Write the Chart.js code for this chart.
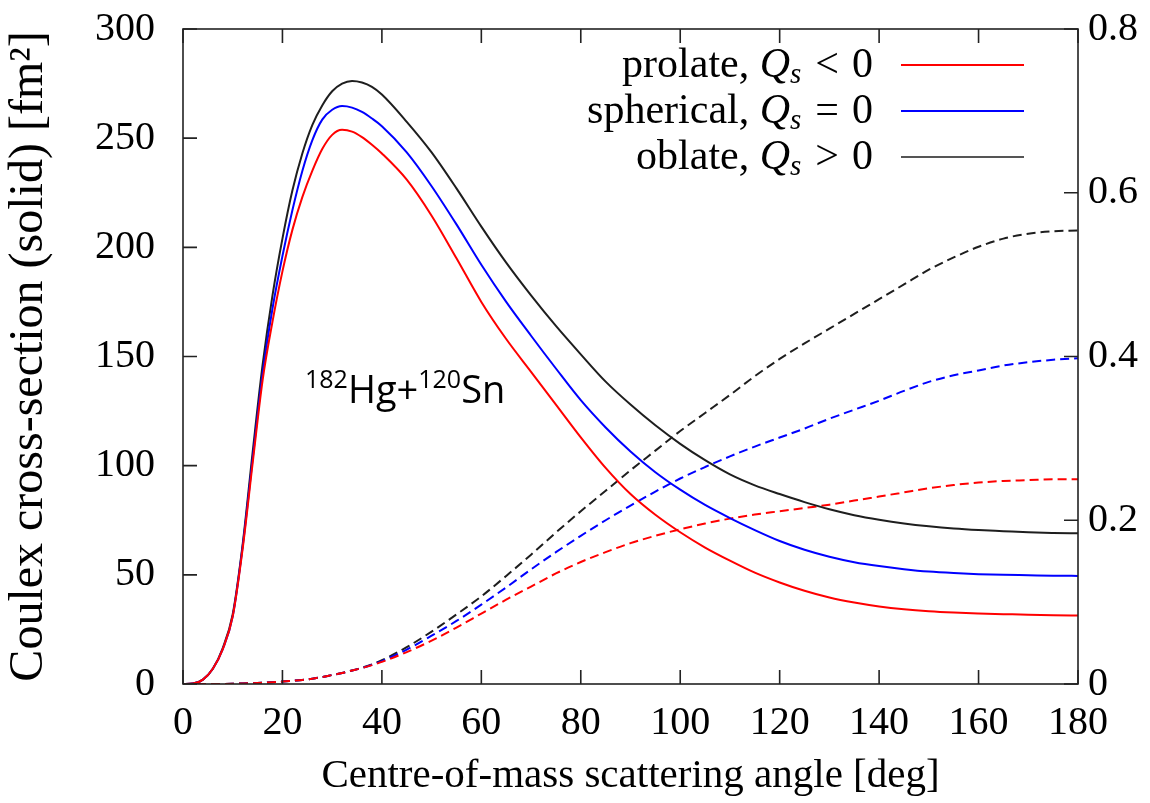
<!DOCTYPE html>
<html><head><meta charset="utf-8">
<script src="https://cdn.jsdelivr.net/npm/chart.js@4.4.0/dist/chart.umd.min.js"></script>
<style>html,body{margin:0;padding:0;background:#fff;}#wrap{width:1150px;height:803px;}</style>
</head><body><div id="wrap"><canvas id="c" width="1150" height="803"></canvas></div>
<script>
// ---- data ----
const angles = [0,2,4,6,8,10,12,14,16,18,20,22,24,26,28,30,32,34,36,38,40,45,50,55,60,65,70,75,80,85,90,95,100,105,110,115,120,125,130,135,140,145,150,155,160,165,170,175,180];

// Coulex cross-section [fm^2] (solid, left axis)
const prolateSolid   = [0,0.2,2,7,16,31,62,101,139,166,189,208,223,235,245,251.5,253.8,253,250.5,247,243,231,214.5,195,175,158,143,128,113,99,87,77.5,69.5,62.5,56.5,51,46.5,42.7,39.6,37.3,35.5,34.2,33.3,32.7,32.3,32,31.7,31.5,31.4];
const sphericalSolid = [0,0.2,2,7,16,31,63,103,142,172,196,217,235,249,258.5,263,264.7,264,262,259,255.5,243.5,228,210.5,192,175,159.5,144.5,130,117.5,106.5,97,89,82,76,70.5,65.5,61.5,58.3,55.8,54,52.6,51.5,50.8,50.3,50,49.8,49.6,49.5];
const oblateSolid    = [0,0.2,2,7,16.5,32,64,106,146,178,204,226,243,256,265,271.5,275,276.2,275.5,273.5,270,257.5,243.5,227,209.5,193,178,164,151,138.5,128,118.5,110,102.5,96,91,87,83.3,80,77.3,75.2,73.5,72.2,71.2,70.5,70,69.5,69.2,69];

// dashed curves (right axis)
const prolateDashed   = [0,0,0,0,0.0001,0.0003,0.0006,0.001,0.0015,0.0022,0.003,0.004,0.005,0.0065,0.0085,0.011,0.0135,0.0165,0.0195,0.023,0.027,0.039,0.053,0.069,0.086,0.103,0.119,0.135,0.149,0.161,0.172,0.181,0.189,0.196,0.202,0.207,0.211,0.215,0.219,0.224,0.229,0.234,0.239,0.243,0.246,0.248,0.249,0.25,0.25];
const sphericalDashed = [0,0,0,0,0.0001,0.0003,0.0006,0.001,0.0015,0.0022,0.003,0.004,0.005,0.0065,0.0085,0.011,0.0135,0.0165,0.0195,0.0235,0.028,0.042,0.059,0.077,0.097,0.118,0.140,0.161,0.181,0.200,0.218,0.235,0.251,0.265,0.278,0.290,0.301,0.312,0.324,0.335,0.346,0.358,0.369,0.377,0.383,0.389,0.393,0.396,0.398];
const oblateDashed    = [0,0,0,0,0.0001,0.0003,0.0006,0.001,0.0015,0.0022,0.003,0.004,0.005,0.0065,0.0085,0.011,0.0135,0.0165,0.02,0.024,0.029,0.045,0.064,0.085,0.107,0.132,0.158,0.185,0.211,0.236,0.261,0.285,0.309,0.331,0.353,0.376,0.397,0.416,0.434,0.452,0.470,0.488,0.506,0.521,0.534,0.544,0.55,0.553,0.554];

const xTickValues = [0,20,40,60,80,100,120,140,160,180];
const leftTickValues = [0,50,100,150,200,250,300];
const rightTickValues = [0,0.2,0.4,0.6,0.8];
const rightTickLabels = ['0','0.2','0.4','0.6','0.8'];

const seriesNames = ['prolate', 'spherical', 'oblate'];
const seriesRelations = ['<', '=', '>'];
const seriesColors = ['#ff0000', '#0000ff', '#1e1e1e'];
const legendLineColors = ['#ff0000', '#0000ff', '#555555'];

const xTitle = 'Centre-of-mass scattering angle [deg]';
const yTitle = 'Coulex cross-section (solid) [fm²]';

// ---- chart ----
const SERIF = '"Liberation Serif", "DejaVu Serif", serif';
function pts(vals){ return angles.map((a,i)=>({x:a,y:vals[i]})); }

const solids = [prolateSolid, sphericalSolid, oblateSolid];
const dashes = [prolateDashed, sphericalDashed, oblateDashed];
const datasets = [];
solids.forEach((s,i)=>datasets.push({label:seriesNames[i]+' solid', data:pts(s), yAxisID:'y', borderColor:seriesColors[i], borderWidth:2, pointRadius:0, cubicInterpolationMode:'monotone', fill:false}));
dashes.forEach((s,i)=>datasets.push({label:seriesNames[i]+' dashed', data:pts(s), yAxisID:'y2', borderColor:seriesColors[i], borderWidth:2, borderDash:[9,5], pointRadius:0, cubicInterpolationMode:'monotone', fill:false}));

const frameAndTicks = {
  id:'frameAndTicks',
  afterDatasetsDraw(chart){
    const {ctx, chartArea:a, scales} = chart;
    ctx.save();
    ctx.strokeStyle = '#222'; ctx.lineWidth = 1.6;
    ctx.strokeRect(a.left, a.top, a.right-a.left, a.bottom-a.top);
    const L = 14;
    ctx.beginPath();
    xTickValues.forEach(v=>{ const px = scales.x.getPixelForValue(v);
      ctx.moveTo(px, a.bottom); ctx.lineTo(px, a.bottom-L);
      ctx.moveTo(px, a.top); ctx.lineTo(px, a.top+L); });
    leftTickValues.forEach(v=>{ const py = scales.y.getPixelForValue(v);
      ctx.moveTo(a.left, py); ctx.lineTo(a.left+L, py); });
    rightTickValues.forEach(v=>{ const py = scales.y2.getPixelForValue(v);
      ctx.moveTo(a.right, py); ctx.lineTo(a.right-L, py); });
    ctx.stroke();
    ctx.restore();
  }
};

const legendPlugin = {
  id:'customLegend',
  afterDraw(chart){
    const ctx = chart.ctx;
    const rows = [65, 111, 157];
    const xRight = 873, lx0 = 901, lx1 = 1024;
    const fs = 42;
    ctx.save();
    ctx.fillStyle = '#000';
    ctx.textBaseline = 'alphabetic';
    seriesNames.forEach((name,i)=>{
      const base = rows[i] + 12;
      const parts = [
        {t:name+', ', f:`${fs}px ${SERIF}`, dy:0, gap:0},
        {t:'Q', f:`italic ${fs}px ${SERIF}`, dy:0, gap:0},
        {t:'s', f:`italic ${Math.round(fs*0.7)}px ${SERIF}`, dy:6, gap:14},
        {t:seriesRelations[i], f:`${fs}px ${SERIF}`, dy:0, gap:13},
        {t:'0', f:`${fs}px ${SERIF}`, dy:0, gap:0}
      ];
      let total = 0;
      parts.forEach(p=>{ ctx.font = p.f; p.w = ctx.measureText(p.t).width; total += p.w + p.gap; });
      let x = xRight - total;
      parts.forEach(p=>{ ctx.font = p.f; ctx.fillText(p.t, x, base + p.dy); x += p.w + p.gap; });
      ctx.strokeStyle = legendLineColors[i]; ctx.lineWidth = 2.2;
      ctx.beginPath(); ctx.moveTo(lx0, rows[i]); ctx.lineTo(lx1, rows[i]); ctx.stroke();
    });
    // annotation 182Hg+120Sn
    const SANS = '"Open Sans", "Noto Sans", sans-serif';
    const big = `38px ${SANS}`, small = `25px ${SANS}`;
    const annot = [{t:'182',f:small,dy:-15},{t:'Hg+',f:big,dy:0},{t:'120',f:small,dy:-15},{t:'Sn',f:big,dy:0}];
    let ax = 305; const ab = 403;
    annot.forEach(p=>{ ctx.font = p.f; ctx.fillText(p.t, ax, ab + p.dy); ax += ctx.measureText(p.t).width; });
    ctx.restore();
  }
};

new Chart(document.getElementById('c'), {
  type:'line',
  data:{datasets},
  options:{
    responsive:false, animation:false, devicePixelRatio:1,
    layout:{padding:{top:29,left:0,right:0,bottom:0}},
    plugins:{legend:{display:false}, tooltip:{enabled:false}},
    scales:{
      x:{type:'linear', min:0, max:180,
        afterBuildTicks(s){ s.ticks = xTickValues.map(v=>({value:v})); },
        afterFit(s){ s.height = 119; s.paddingLeft = 0; s.paddingRight = 0; },
        grid:{display:false, drawTicks:false}, border:{display:false},
        ticks:{font:{family:SERIF, size:40}, color:'#000', padding:15, maxRotation:0, autoSkip:false},
        title:{display:true, text:xTitle, font:{family:SERIF, size:41}, color:'#000', padding:{top:0,bottom:2}}
      },
      y:{type:'linear', position:'left', min:0, max:300,
        afterBuildTicks(s){ s.ticks = leftTickValues.map(v=>({value:v})); },
        afterFit(s){ s.width = 183; s.paddingTop = 0; s.paddingBottom = 0; },
        grid:{display:false, drawTicks:false}, border:{display:false},
        ticks:{font:{family:SERIF, size:40}, color:'#000', padding:28},
        title:{display:true, text:yTitle, font:{family:SERIF, size:48}, color:'#000', padding:{top:1,bottom:0}}
      },
      y2:{type:'linear', position:'right', min:0, max:0.8,
        afterBuildTicks(s){ s.ticks = rightTickValues.map(v=>({value:v})); },
        afterFit(s){ s.width = 72; s.paddingTop = 0; s.paddingBottom = 0; },
        grid:{display:false, drawTicks:false}, border:{display:false},
        ticks:{font:{family:SERIF, size:40}, color:'#000', padding:10,
          callback:(v)=>{ const i = rightTickValues.findIndex(t=>Math.abs(t-v)<1e-9); return i>=0 ? rightTickLabels[i] : ''; }}
      }
    }
  },
  plugins:[frameAndTicks, legendPlugin]
});
</script></body></html>
